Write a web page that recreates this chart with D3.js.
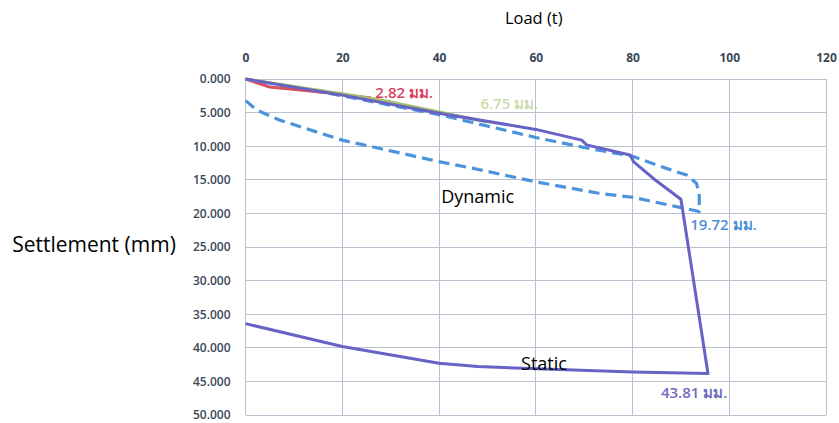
<!DOCTYPE html>
<html><head><meta charset="utf-8">
<script src="https://cdn.jsdelivr.net/npm/d3@7"></script>
<style>body{margin:0;background:#fff}svg{display:block}</style>
</head><body>
<svg id="chart" width="839" height="423"></svg>
<script>
// ---- data ----
const xTicks = [0, 20, 40, 60, 80, 100, 120];
const yTicks = [0, 5, 10, 15, 20, 25, 30, 35, 40, 45, 50];
// Load (t), Settlement (mm)
const redLoad = [0, 5, 15, 26];
const redSet  = [0, 1.2, 1.9, 2.82];
const greenLoad = [0, 10, 20, 30, 40, 50];
const greenSet  = [0, 1.1, 2.2, 3.4, 4.9, 6.4];
const dynLoad = [0, 20, 40, 50, 60, 70, 80, 87, 91.2, 93.2, 93.8, 93.8, 89.8, 80, 73, 60, 48.4, 40, 20, 7, 2.3, 0];
const dynSet  = [0, 2.5, 5.3, 7.0, 8.7, 10.2, 11.5, 13.3, 14.3, 15.5, 17.0, 19.72, 19.1, 17.6, 17.0, 15.3, 13.5, 12.3, 9.1, 6.1, 4.6, 3.2];
const staLoad = [0, 20, 40, 60, 69.5, 70.5, 79.5, 80.2, 84.3, 90, 90.3, 95.6, 80, 48, 40, 20, 0];
const staSet  = [0, 2.4, 5.1, 7.5, 9.1, 9.8, 11.3, 12.3, 14.8, 17.9, 19.2, 43.81, 43.6, 42.8, 42.3, 39.8, 36.4];
const endLabels = [
  {text: "2.82 มม.", load: 26, set: 2.82, dx: 4, dy: -5, color: "#d5435f", op: 1},
  {text: "6.75 มม.", load: 50, set: 6.4, dx: -7, dy: -18, color: "#b7d18f", op: 0.75},
  {text: "19.72 มม.", load: 93.8, set: 19.72, dx: -9, dy: 13, color: "#4a8fd6", op: 1},
  {text: "43.81 มม.", load: 95.6, set: 43.81, dx: -47, dy: 19, color: "#6f6cc0", op: 1}
];
const seriesNames = [{text: "Dynamic", load: 48, set: 17.5}, {text: "Static", load: 61.7, set: 42.3}];

// ---- chart ----
const svg = d3.select("#chart");
const x = d3.scaleLinear().domain([0, 120]).range([245.5, 826]);
const y = d3.scaleLinear().domain([0, 50]).range([79, 415]);

const grid = svg.append("g").attr("stroke", "#b8c3cf").attr("stroke-width", 1).attr("shape-rendering", "crispEdges");
grid.selectAll(".v").data(xTicks).join("line")
  .attr("x1", d => x(d)).attr("x2", d => x(d)).attr("y1", y(0)).attr("y2", y(50));
grid.selectAll(".h").data(yTicks).join("line")
  .attr("x1", x(0)).attr("x2", x(120)).attr("y1", d => y(d)).attr("y2", d => y(d));

const xAxis = d3.axisTop(x).tickValues(xTicks).tickSize(0).tickPadding(0).tickFormat(d3.format("d"));
const gx = svg.append("g").attr("transform", `translate(0,${y(0) - 21})`).call(xAxis);
gx.select(".domain").remove();
gx.selectAll("text").attr("font-family", "Open Sans, sans-serif").attr("font-size", 12)
  .attr("font-weight", 700).attr("fill", "#3a4757").attr("dy", "0.35em");

const yAxis = d3.axisLeft(y).tickValues(yTicks).tickSize(0).tickPadding(0).tickFormat(d3.format(".3f"));
const gy = svg.append("g").attr("transform", `translate(${x(0) - 15},0)`).call(yAxis);
gy.select(".domain").remove();
gy.selectAll("text").attr("font-family", "Open Sans, sans-serif").attr("font-size", 12)
  .attr("font-weight", 600).attr("fill", "#3a4757");

const line = d3.line().x(d => x(d[0])).y(d => y(d[1]));
const zip = (a, b) => a.map((v, i) => [v, b[i]]);

svg.append("path").datum(zip(dynLoad, dynSet)).attr("d", line)
  .attr("fill", "none").attr("stroke", "#4b93dc").attr("stroke-width", 3.2)
  .attr("stroke-dasharray", "11,6").attr("stroke-linejoin", "round");
svg.append("path").datum(zip(redLoad, redSet)).attr("d", line)
  .attr("fill", "none").attr("stroke", "#d9505f").attr("stroke-width", 3).attr("stroke-linejoin", "round");
svg.append("path").datum(zip(greenLoad, greenSet)).attr("d", line)
  .attr("fill", "none").attr("stroke", "#a3c06a").attr("stroke-width", 3).attr("stroke-linejoin", "round");
svg.append("path").datum(zip(staLoad, staSet)).attr("d", line)
  .attr("fill", "none").attr("stroke", "#6762c6").attr("stroke-width", 3).attr("stroke-linejoin", "round");

svg.selectAll(".endlab").data(endLabels).join("text")
  .attr("x", d => x(d.load) + d.dx).attr("y", d => y(d.set) + d.dy)
  .attr("dy", "0.35em").attr("font-family", "Open Sans, Noto Sans, sans-serif").attr("font-size", 15)
  .attr("font-weight", 600).attr("fill", d => d.color).attr("fill-opacity", d => d.op).text(d => d.text);

svg.selectAll(".sname").data(seriesNames).join("text")
  .attr("x", d => x(d.load)).attr("y", d => y(d.set)).attr("dy", "0.35em")
  .attr("text-anchor", "middle").attr("font-family", "Open Sans, sans-serif").attr("font-size", 18)
  .attr("fill", "#000").text(d => d.text);

svg.append("text").attr("x", (x(0) + x(120)) / 2 - 2).attr("y", 18).attr("dy", "0.35em")
  .attr("text-anchor", "middle").attr("font-family", "Open Sans, sans-serif").attr("font-size", 16.5)
  .attr("fill", "#000").text("Load (t)");
svg.append("text").attr("x", 94).attr("y", 245).attr("dy", "0.35em")
  .attr("text-anchor", "middle").attr("font-family", "Open Sans, sans-serif").attr("font-size", 21)
  .attr("fill", "#000").text("Settlement (mm)");
</script>
</body></html>
